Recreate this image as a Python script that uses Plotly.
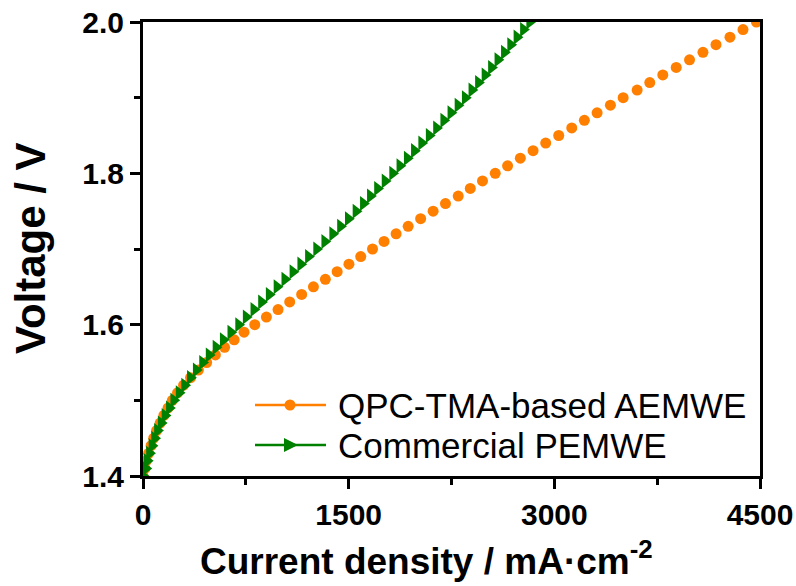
import plotly.graph_objects as go

# Polarization curves: cell voltage (V) vs. current density (mA cm^-2)
voltage = [1.40, 1.41, 1.42, 1.43, 1.44, 1.45, 1.46, 1.47, 1.48, 1.49,
           1.50, 1.51, 1.52, 1.53, 1.54, 1.55, 1.56, 1.57, 1.58, 1.59,
           1.60, 1.61, 1.62, 1.63, 1.64, 1.65, 1.66, 1.67, 1.68, 1.69,
           1.70, 1.71, 1.72, 1.73, 1.74, 1.75, 1.76, 1.77, 1.78, 1.79,
           1.80, 1.81, 1.82, 1.83, 1.84, 1.85, 1.86, 1.87, 1.88, 1.89,
           1.90, 1.91, 1.92, 1.93, 1.94, 1.95, 1.96, 1.97, 1.98, 1.99,
           2.00]

aemwe_current = [0, 14, 24, 41, 59, 78, 99, 125, 152, 183,
                 214, 252, 296, 347, 404, 464, 528, 595, 665, 737,
                 815, 900, 985, 1070, 1157, 1243, 1330, 1416, 1502, 1588,
                 1674, 1758, 1846, 1934, 2025, 2116, 2206, 2299, 2387, 2476,
                 2569, 2659, 2752, 2845, 2937, 3032, 3127, 3219, 3312, 3409,
                 3502, 3604, 3696, 3791, 3889, 3986, 4084, 4179, 4281, 4376,
                 4474]

pemwe_current = [0, 20, 30, 47, 65, 84, 105, 132, 160, 192,
                 224, 263, 303, 345, 388, 434, 482, 532, 585, 640,
                 697, 752, 808, 864, 920, 977, 1034, 1093, 1150, 1206,
                 1266, 1325, 1383, 1440, 1497, 1553, 1607, 1658, 1710, 1765,
                 1820, 1873, 1927, 1979, 2032, 2087, 2140, 2193, 2245, 2297,
                 2350, 2398, 2446, 2494, 2541, 2588, 2635, 2681, 2727, 2774,
                 2820]

series_names = ["QPC-TMA-based AEMWE", "Commercial PEMWE"]
orange = "#FF8000"
green = "#008000"

x_ticks = [0, 1500, 3000, 4500]
y_ticks = [1.4, 1.6, 1.8, 2.0]

W, H = 796, 586
ML, MR, MT, MB = 143, 36, 22, 110
PW, PH = W - ML - MR, H - MT - MB

fig = go.Figure()
fig.add_trace(go.Scatter(
    x=aemwe_current, y=voltage, mode="markers", name=series_names[0],
    marker=dict(symbol="circle", size=11, color=orange, line=dict(width=0)),
    showlegend=False))
fig.add_trace(go.Scatter(
    x=pemwe_current, y=voltage, mode="markers", name=series_names[1],
    marker=dict(symbol="triangle-right", size=13, color=green, line=dict(width=0)),
    showlegend=False))

tick_font = dict(family="Liberation Sans, Arial", size=30, color="black", weight="bold")
axis_common = dict(
    showline=True, linewidth=3, linecolor="black", mirror=True,
    ticks="outside", ticklen=10, tickwidth=3, tickcolor="black",
    showgrid=False, zeroline=False, tickfont=tick_font, automargin=False,
)
fig.update_xaxes(range=[0, 4500], tickvals=x_ticks, ticktext=[str(v) for v in x_ticks],
                 minor=dict(tickvals=[750, 2250, 3750], ticks="outside", ticklen=6,
                            tickwidth=3, tickcolor="black"),
                 **axis_common)
fig.update_yaxes(range=[1.4, 2.0], tickvals=y_ticks, ticktext=[f"{v:.1f}" for v in y_ticks],
                 minor=dict(tickvals=[1.5, 1.7, 1.9], ticks="outside", ticklen=6,
                            tickwidth=3, tickcolor="black"),
                 **axis_common)


def px_to_paper(px, py):
    return (px - ML) / PW, (H - MB - py) / PH


shapes = []
annotations = []

# Legend: line + symbol + label for each series
legend_rows = [(405, orange, "circle"), (445, green, "triangle")]
for (row_y, col, sym), label in zip(legend_rows, series_names):
    x0, yy = px_to_paper(255, row_y)
    x1, _ = px_to_paper(326, row_y)
    shapes.append(dict(type="line", xref="paper", yref="paper", x0=x0, x1=x1, y0=yy, y1=yy,
                       line=dict(color=col, width=2.5)))
    xc, _ = px_to_paper(290, row_y)
    if sym == "circle":
        shapes.append(dict(type="circle", xref="paper", yref="paper", xsizemode="pixel",
                           ysizemode="pixel", xanchor=xc, yanchor=yy, x0=-5.5, x1=5.5,
                           y0=-5.5, y1=5.5, fillcolor=col, line=dict(width=0)))
    else:
        shapes.append(dict(type="path", xref="paper", yref="paper", xsizemode="pixel",
                           ysizemode="pixel", xanchor=xc, yanchor=yy,
                           path="M -6,-7 L 8,0 L -6,7 Z", fillcolor=col, line=dict(width=0)))
    tx, _ = px_to_paper(336, row_y)
    annotations.append(dict(xref="paper", yref="paper", x=tx, y=yy, xanchor="left",
                            yanchor="middle", showarrow=False, text=label,
                            font=dict(family="Liberation Sans, Arial", size=35, color="black")))

# Axis titles
tx, ty = px_to_paper(426, 558)
annotations.append(dict(xref="paper", yref="paper", x=tx, y=ty, xanchor="center",
                        yanchor="middle", showarrow=False,
                        text="Current density / mA·cm<sup>-2</sup>",
                        font=dict(family="Liberation Sans, Arial", size=37, color="black",
                                  weight="bold")))
tx, ty = px_to_paper(30, 248)
annotations.append(dict(xref="paper", yref="paper", x=tx, y=ty, xanchor="center",
                        yanchor="middle", showarrow=False, textangle=-90,
                        text="Voltage / V",
                        font=dict(family="Liberation Sans, Arial", size=42, color="black",
                                  weight="bold")))

fig.update_layout(
    width=W, height=H,
    margin=dict(l=ML, r=MR, t=MT, b=MB),
    paper_bgcolor="white", plot_bgcolor="white",
    shapes=shapes, annotations=annotations,
    showlegend=False,
)

fig.write_html("out.html")
